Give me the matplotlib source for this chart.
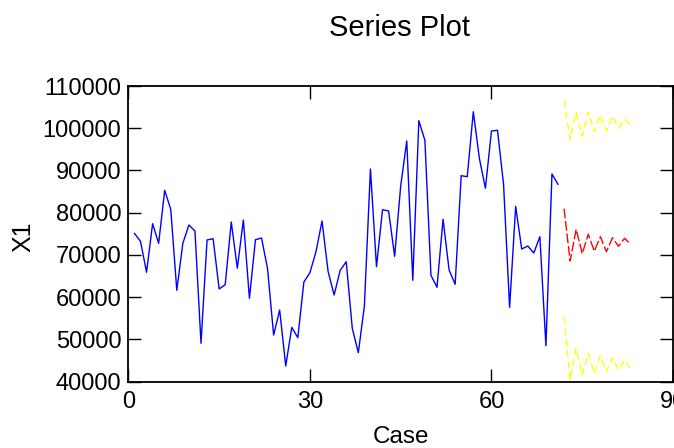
import matplotlib
matplotlib.use("Agg")
import matplotlib.pyplot as plt

plt.rcParams['font.family'] = ['Liberation Sans', 'DejaVu Sans']

# observed series (cases 1..71)
x1_values = [
    75100, 73240, 65900, 77400, 72770, 85300, 80800, 61640, 72770, 77100,
    75680, 49090, 73550, 73860, 61950, 62970, 77810, 66850, 78280, 59740,
    73620, 74020, 66750, 51050, 56970, 43720, 52870, 50420, 63600, 65800,
    70780, 78040, 66130, 60530, 66370, 68400, 52640, 46870, 57920, 90350,
    67230, 80720, 80410, 69690, 86330, 96980, 64000, 101790, 97150, 65190,
    62350, 78450, 66440, 63060, 88770, 88530, 103920, 92890, 85790, 99350,
    99510, 86730, 57610, 81520, 71410, 72120, 70470, 74330, 48520, 89170,
    86730,
]
cases = list(range(1, len(x1_values) + 1))

# forecasts (cases 72..83) with limits
fc_cases = list(range(72, 84))
forecast = [80960, 68570, 76080, 70300, 74900, 70870,
            74330, 70780, 74100, 72050, 73950, 72530]
upper = [106520, 97380, 103780, 98170, 103780, 99190,
         103140, 99420, 102900, 99990, 102120, 100770]
lower = [55250, 40400, 47900, 41590, 46720, 41990,
         46080, 42370, 45680, 42770, 45140, 42940]

fig = plt.figure(figsize=(6.74, 4.48), dpi=100)
ax = fig.add_axes([0.1905, 0.148, 0.808, 0.66])

ax.plot(cases, x1_values, color='#0000ff', lw=1.0)
ax.plot(fc_cases, forecast, color='#ff0000', lw=1.0, linestyle=(0, (7, 2)))
ax.plot(fc_cases, upper, color='#ffff00', lw=1.0, linestyle=(0, (5, 3)))
ax.plot(fc_cases, lower, color='#ffff00', lw=1.0, linestyle=(0, (5, 3)))

ax.set_xlim(0, 90)
ax.set_ylim(40000, 110000)
ax.set_xticks([0, 30, 60, 90])
ax.set_yticks(range(40000, 110001, 10000))
ax.tick_params(direction='in', length=9.5, width=1, top=True, right=True,
               labelsize=17, colors='black')
ax.tick_params(axis='x', pad=7)
ax.tick_params(axis='y', pad=5)
for s in ax.spines.values():
    s.set_linewidth(1.3)

ax.set_xlabel('Case', fontsize=17.5)
ax.xaxis.set_label_coords(0.5, -0.15)
ax.set_ylabel('X1', fontsize=18)
ax.yaxis.set_label_coords(-0.17, 0.49)
fig.text(0.593, 0.937, 'Series Plot', fontsize=21, ha='center', va='center')

fig.savefig('out.png', dpi=100)
